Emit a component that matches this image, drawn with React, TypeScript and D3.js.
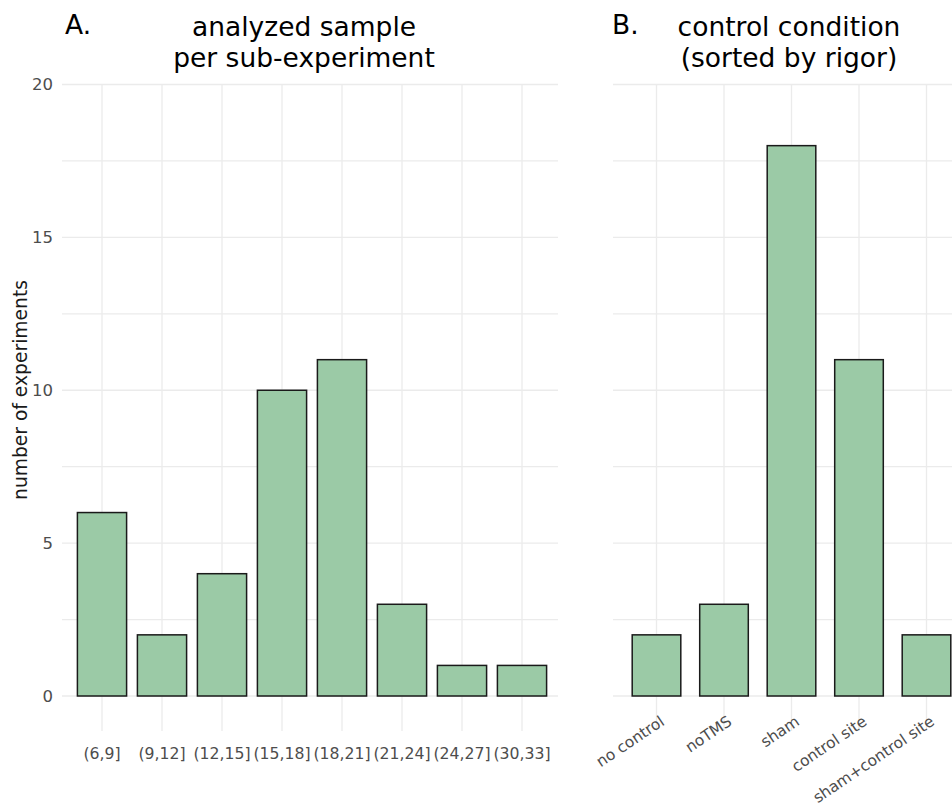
import React from "react";
import * as d3 from "d3";

// panel A: analysed sample size bins
const sampleBins = ["(6,9]", "(9,12]", "(12,15]", "(15,18]", "(18,21]", "(21,24]", "(24,27]", "(30,33]"];
const sampleCounts = [6, 2, 4, 10, 11, 3, 1, 1];

// panel B: control condition
const controlConditions = ["no control", "noTMS", "sham", "control site", "sham+control site"];
const controlCounts = [2, 3, 18, 11, 2];

const yTicks = [0, 5, 10, 15, 20];
const yGridLines = [0, 2.5, 5, 7.5, 10, 12.5, 15, 17.5, 20];

const FONT = "'DejaVu Sans', sans-serif";
const BAR_FILL = "#9bcaa6";
const BAR_STROKE = "#1a1a1a";
const GRID = "#ebebeb";
const TICK_TEXT = "#4d4d4d";

const width = 952;
const height = 810;
const panelTop = 85;
const panelBottom = 731;

export default function App() {
  const y = d3.scaleLinear().domain([0, 20]).range([696, 84.5]);

  const xA = d3.scaleBand<string>()
    .domain(sampleBins)
    .range([66, 558])
    .paddingInner(0.18)
    .paddingOuter(0.19);

  const xB = d3.scaleBand<string>()
    .domain(controlConditions)
    .range([616, 967])
    .paddingInner(0.28)
    .paddingOuter(0.24);

  const panels = [
    { x: xA, left: 62, right: 558, cats: sampleBins, vals: sampleCounts },
    { x: xB, left: 613, right: 967, cats: controlConditions, vals: controlCounts },
  ];

  return (
    <svg
      width={width}
      height={height}
      style={{ position: "absolute", left: 0, top: 0, background: "#fff" }}
      fontFamily={FONT}
    >
      {panels.map((p, pi) => (
        <g key={pi}>
          {/* grid */}
          {yGridLines.map((t) => (
            <line key={"h" + t} x1={p.left} x2={p.right} y1={y(t)} y2={y(t)} stroke={GRID} strokeWidth={1.3} />
          ))}
          {p.cats.map((c) => {
            const cx = (p.x(c) as number) + p.x.bandwidth() / 2;
            return <line key={"v" + c} x1={cx} x2={cx} y1={panelTop} y2={panelBottom} stroke={GRID} strokeWidth={1.3} />;
          })}
          {/* bars */}
          {p.cats.map((c, i) => (
            <rect
              key={"b" + c}
              x={p.x(c)}
              y={y(p.vals[i])}
              width={p.x.bandwidth()}
              height={y(0) - y(p.vals[i])}
              fill={BAR_FILL}
              stroke={BAR_STROKE}
              strokeWidth={1.5}
            />
          ))}
        </g>
      ))}

      {/* y axis labels (panel A only) */}
      {yTicks.map((t) => (
        <text key={t} x={53} y={y(t)} dy="0.36em" textAnchor="end" fontSize={16.5} fill={TICK_TEXT}>
          {t}
        </text>
      ))}
      <text
        transform={`translate(27,390) rotate(-90)`}
        textAnchor="middle"
        fontSize={18.7}
        fill="#1a1a1a"
      >
        number of experiments
      </text>

      {/* x labels panel A */}
      {sampleBins.map((c) => (
        <text
          key={c}
          x={(xA(c) as number) + xA.bandwidth() / 2}
          y={759}
          textAnchor="middle"
          fontSize={15.7}
          fill={TICK_TEXT}
        >
          {c}
        </text>
      ))}

      {/* x labels panel B, rotated */}
      {controlConditions.map((c) => {
        const cx = (xB(c) as number) + xB.bandwidth() / 2;
        return (
          <text
            key={c}
            transform={`translate(${cx + 9},724) rotate(-34)`}
            textAnchor="end"
            fontSize={15.5}
            fill={TICK_TEXT}
          >
            {c}
          </text>
        );
      })}

      {/* titles */}
      <text x={65} y={34} fontSize={26.5} fill="#000">A.</text>
      <text x={304} y={36} textAnchor="middle" fontSize={26.5} fill="#000">analyzed sample</text>
      <text x={304} y={67} textAnchor="middle" fontSize={26.5} fill="#000">per sub-experiment</text>

      <text x={612} y={34} fontSize={26.5} fill="#000">B.</text>
      <text x={789} y={36} textAnchor="middle" fontSize={26.5} fill="#000">control condition</text>
      <text x={789} y={67} textAnchor="middle" fontSize={26.5} fill="#000">(sorted by rigor)</text>
    </svg>
  );
}
